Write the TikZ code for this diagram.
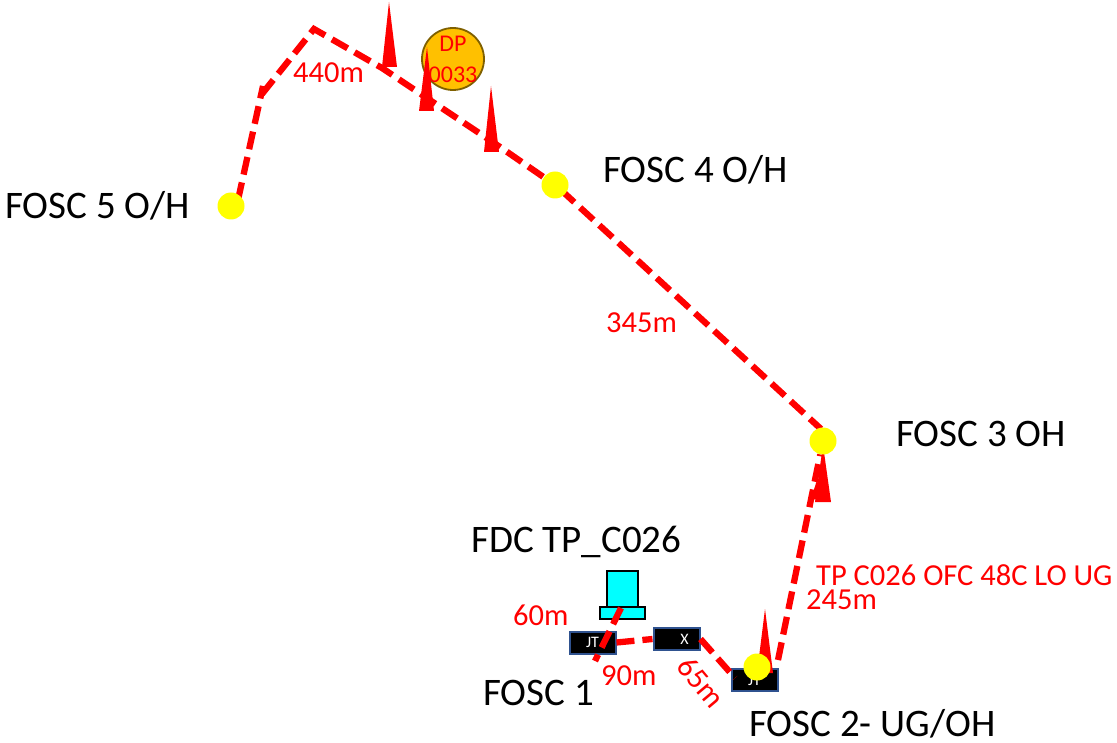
\documentclass[tikz,border=0pt]{standalone}
\usepackage{fontspec}
\setmainfont{Carlito}
\usetikzlibrary{backgrounds}
\definecolor{boxedge}{HTML}{2F528F}
\definecolor{dporange}{HTML}{FFC000}
\definecolor{dpedge}{HTML}{7F6000}
\definecolor{purecyan}{HTML}{00FFFF}
\definecolor{pureyellow}{HTML}{FFFF00}
\definecolor{purered}{HTML}{FF0000}
\newcommand{\fs}[1]{\fontsize{#1}{#1}\selectfont}
\tikzset{
  x=1pt,y=-1pt,
  lbl/.style={inner sep=0pt,anchor=base west,font=\fs{39},text=black},
  dist/.style={inner sep=0pt,anchor=base west,font=\fs{30.5},text=purered},
  fosc/.style={circle,fill=pureyellow,draw=none,minimum size=27pt,inner sep=0pt},
  joint/.style={fill=black,draw=boxedge,line width=2pt,minimum width=46pt,minimum height=22pt,inner sep=0pt,text=white,font=\fs{16}},
  cyanbox/.style={fill=purecyan,draw=black,line width=1.7pt,inner sep=0pt},
  fibre/.style={draw=purered,line width=6.3pt,dash pattern=on 18pt off 8pt},
  spike/.style={fill=purered,draw=none},
}
\begin{document}
\begin{tikzpicture}
\useasboundingbox (0,0) rectangle (1117,743);
\node[fosc] (f5) at (231,206) {};
\node[fosc] (f4) at (555,185) {};
\node[fosc] (f3) at (823,441) {};
\node[fosc] (f2) at (757,667) {};
\coordinate (c5) at (238,200);
\coordinate (c0) at (263,86);
\coordinate (c1) at (262,94);
\coordinate (c2) at (314,29);
\coordinate (c3) at (382,68);
\coordinate (c4) at (500,147);
\coordinate (g1) at (561,190);
\coordinate (g2) at (821,429);
\coordinate (e2) at (778,660);
\coordinate (e3) at (735,678);
\coordinate (e1) at (595,661);
\coordinate (fd) at (621,608);
\begin{scope}[on background layer]
  \node[circle,fill=dporange,draw=dpedge,line width=1.8pt,minimum size=62pt,inner sep=0pt] (dp) at (453,59) {};
  \node[joint] (jt1) at (592.5,642.5) {JT};
  \node[joint] (xb) at (676.5,639) {\hspace*{16pt}X};
  \node[joint] (jt2) at (754.5,680) {JT};
  \node[cyanbox,minimum width=31pt,minimum height=36pt] (fdc) at (622.5,589) {};
  \node[cyanbox,minimum width=45pt,minimum height=12pt] (fdcb) at (622.5,613) {};
  \draw[fibre] (c5) -- (c0);
  \draw[fibre] (c1) -- (c2) -- (c3) -- (c4) -- (f4);
  \draw[fibre] (g1) -- (g2);
  \draw[fibre] (e2) -- (f3);
  \draw[fibre] (fd) -- (e1);
  \draw[fibre] (jt1.east) -- (xb.west);
  \draw[fibre] (xb.east) -- (e3);
  \coordinate (s1) at (389,2);
  \coordinate (s2) at (427,47);
  \coordinate (s3) at (491,86);
  \coordinate (s4) at (823,445);
  \coordinate (s5) at (765,609);
  \fill[spike] (s1) -- (397,67) -- (382,67) -- cycle;
  \fill[spike] (s2) -- (434,111) -- (419,111) -- cycle;
  \fill[spike] (s3) -- (499,152) -- (484,152) -- cycle;
  \fill[spike] (s4) -- (831,502) -- (815,502) -- cycle;
  \fill[spike] (817,480) -- (823,500) -- (811,499) -- cycle;
  \fill[spike] (s5) -- (773,673) -- (757,673) -- cycle;
\end{scope}
\node[lbl] (t5) at (5,219) {FOSC 5 O/H};
\node[lbl] (t4) at (603,183) {FOSC 4 O/H};
\node[lbl] (t3) at (896,446) {FOSC 3 OH};
\node[lbl] (t0) at (471,552) {FDC TP\_C026};
\node[lbl] (t1) at (483,705) {FOSC 1};
\node[lbl] (t2) at (749,736) {FOSC 2- UG/OH};
\node[dist] (d1) at (293,83) {440m};
\node[dist] (d2) at (606,333) {345m};
\node[dist] (d3) at (816,585) {TP C026 OFC 48C LO UG};
\node[dist] (d4) at (806,609) {245m};
\node[dist] (d5) at (513,625) {60m};
\node[dist] (d6) at (601,685) {90m};
\node[dist,anchor=center,rotate=-50] (d7) at (701,682) {65m};
\node[inner sep=0pt,anchor=base,font=\fs{24},text=purered] (dp1) at (453,52) {DP};
\node[inner sep=0pt,anchor=base,font=\fs{24},text=purered] (dp2) at (453,83) {0033};
\end{tikzpicture}
\end{document}
